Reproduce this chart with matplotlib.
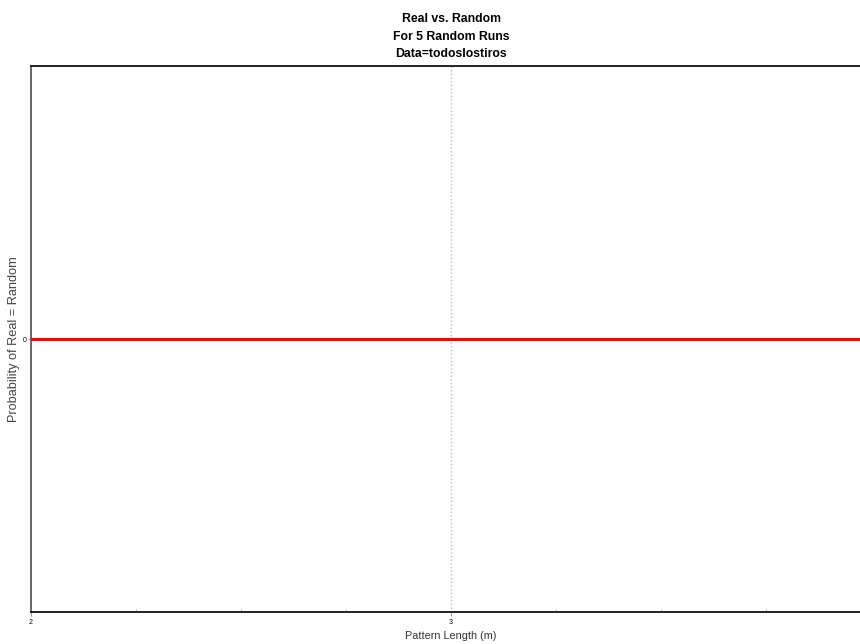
import numpy as np
import matplotlib.pyplot as plt

# probabilidad de que real = aleatorio, por longitud de patron
pattern_len = [2, 3, 4]
prob_real_random = [0, 0, 0]
x_ticks = [2, 3]
y_ticks = [0]

plt.rcParams['font.family'] = ['Liberation Sans', 'DejaVu Sans']

fig = plt.figure(figsize=(8.6, 6.44), dpi=100)
ax = fig.add_axes([31 / 860, 32 / 644, 840 / 860, 546 / 644])

ax.plot(pattern_len, prob_real_random, c='red', lw=2.2, zorder=3)
ax.axvline(3, c='#bbbbbb', ls=':', lw=1.0, zorder=1)

ax.set_xlim(2, 4)
ax.set_ylim(-1, 1)
ax.set_xticks(x_ticks)
ax.set_xticks(np.arange(2, 4.01, 0.25), minor=True)
ax.set_yticks(y_ticks)
ax.tick_params(axis='x', which='major', labelsize=5, length=3, width=0.6, color='#888888', pad=2)
ax.tick_params(axis='y', which='major', labelsize=5, length=2, width=0.6, color='#888888', pad=1)
ax.tick_params(axis='x', which='minor', direction='in', length=2, width=0.6, color='#aaaaaa')

for s in ['top', 'bottom']:
    ax.spines[s].set_linewidth(1.4)
    ax.spines[s].set_color('#222222')
ax.spines['left'].set_linewidth(1.4)
ax.spines['left'].set_color('#666666')
ax.spines['right'].set_visible(False)

ax.set_xlabel('Pattern Length (m)', fontsize=7.8, color='#333333')
ax.xaxis.set_label_coords(0.5, -0.035)
ax.set_ylabel('Probability of Real = Random', fontsize=9.2, color='#444444')
ax.yaxis.set_label_coords(-0.0125, 0.5)
ax.set_title('Real vs. Random\nFor 5 Random Runs\nData=todoslostiros',
             fontsize=8.8, fontweight='bold', linespacing=1.6, pad=6.5)

plt.savefig('out.png', dpi=100)
